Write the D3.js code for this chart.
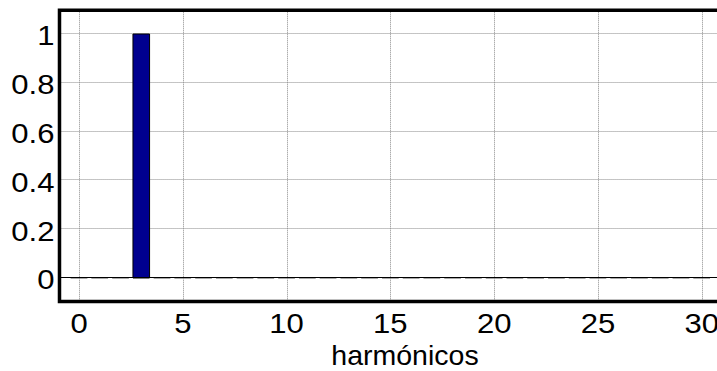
<!DOCTYPE html>
<html>
<head>
<meta charset="utf-8">
<script src="https://cdn.jsdelivr.net/npm/d3@7"></script>
<style>
  html, body { margin: 0; padding: 0; background: #fff; overflow: hidden; }
  svg { display: block; }
  text { font-family: "Liberation Sans", Arial, Helvetica, sans-serif; fill: #000; }
</style>
</head>
<body>
<svg id="chart" width="717" height="371"></svg>
<script>
// Harmonic orders 0..30 and their normalised amplitudes
const harmonics = d3.range(0, 31);
const amplitudes = [0, 0, 0, 1, 0, 0, 0, 0, 0, 0,
                    0, 0, 0, 0, 0, 0, 0, 0, 0, 0,
                    0, 0, 0, 0, 0, 0, 0, 0, 0, 0, 0];
const xTicks = [0, 5, 10, 15, 20, 25, 30];
const yTicks = [0, 0.2, 0.4, 0.6, 0.8, 1];
const xLabel = "harmónicos";

// Axis limits (the right side of the box runs past the figure edge)
const xLimits = [-0.94, 32.35];
const yLimits = [-0.1, 1.093];
const barWidth = 0.8;

const svg = d3.select("#chart");

const x = d3.scaleLinear().domain([0, 30]).range([79, 701.7]);
const y = d3.scaleLinear().domain([0, 1]).range([277, 33]);

const boxLeft = x(xLimits[0]), boxRight = x(xLimits[1]);
const boxTop = y(yLimits[1]), boxBottom = y(yLimits[0]);

// Dotted grid
const grid = svg.append("g")
  .attr("stroke", "#8a8a8a")
  .attr("stroke-width", 1)
  .attr("stroke-dasharray", "1,1");
grid.selectAll("line.gx").data(xTicks).join("line")
  .attr("class", "gx")
  .attr("x1", d => Math.round(x(d)) + 0.5).attr("x2", d => Math.round(x(d)) + 0.5)
  .attr("y1", boxTop).attr("y2", boxBottom);
grid.selectAll("line.gy").data(yTicks).join("line")
  .attr("class", "gy")
  .attr("y1", d => Math.round(y(d)) + 0.5).attr("y2", d => Math.round(y(d)) + 0.5)
  .attr("x1", boxLeft).attr("x2", boxRight);

// Bars (zero-height bars show as short strokes along the baseline)
const bars = harmonics.map((h, i) => ({ h, v: amplitudes[i] }));
svg.append("g")
  .attr("transform", "translate(0,1)")
  .selectAll("path").data(bars).join("path")
  .attr("d", d => {
    const x0 = x(d.h - barWidth / 2), x1 = x(d.h + barWidth / 2);
    const y0 = y(0), y1 = y(d.v);
    return `M${x0},${y0}V${y1}H${x1}V${y0}Z`;
  })
  .attr("fill", "#00008f")
  .attr("stroke", d => d.v === 0 ? "#8c8c8c" : "#000")
  .attr("stroke-width", 1);

// Baseline
svg.append("line")
  .attr("x1", boxLeft).attr("x2", boxRight)
  .attr("y1", y(0) + 0.5).attr("y2", y(0) + 0.5)
  .attr("stroke", "#000").attr("stroke-width", 1);

// Axes box
svg.append("path")
  .attr("d", `M${boxRight},${boxTop}H${boxLeft}V${boxBottom}H${boxRight}`)
  .attr("fill", "none")
  .attr("stroke", "#000")
  .attr("stroke-width", 3.5);

// Tick labels
svg.append("g").selectAll("text").data(xTicks).join("text")
  .attr("transform", d => `translate(${x(d)},333) scale(1.15,1)`)
  .attr("text-anchor", "middle")
  .attr("font-size", 27)
  .text(d => d);

svg.append("g").selectAll("text").data(yTicks).join("text")
  .attr("transform", d => `translate(54.5,${y(d) + 12.4}) scale(1.15,1)`)
  .attr("text-anchor", "end")
  .attr("font-size", 27)
  .text(d => d3.format("~g")(d));

// X axis title
svg.append("text")
  .attr("x", (boxLeft + boxRight) / 2)
  .attr("y", 364.5)
  .attr("text-anchor", "middle")
  .attr("font-size", 28.5)
  .text(xLabel);
</script>
</body>
</html>
